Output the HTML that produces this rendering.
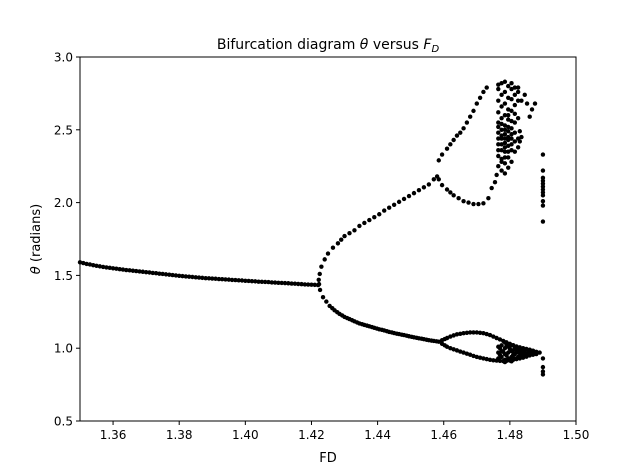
<!DOCTYPE html>
<html><head><meta charset="utf-8"><style>
html,body{margin:0;padding:0;background:#fff;}
svg{display:block;font-family:"DejaVu Sans","Liberation Sans",sans-serif;}
</style></head><body>
<svg id="chart" width="640" height="473" viewBox="0 0 640 473">
<rect x="0" y="0" width="640" height="473" fill="#fff"/>
<g id="ticks"></g>
<g id="marks"></g>
<rect x="80" y="57" width="496" height="364" fill="none" stroke="#000" stroke-width="1"/>
<text x="328" y="49" text-anchor="middle" font-size="14">Bifurcation diagram  <tspan font-style="italic">θ</tspan> versus <tspan font-style="italic">F</tspan><tspan font-style="italic" font-size="10" dy="3">D</tspan></text>
<text x="328" y="462" text-anchor="middle" font-size="13">FD</text>
<text transform="translate(40,239) rotate(-90)" text-anchor="middle" font-size="13"><tspan font-style="italic">θ</tspan> (radians)</text>
</svg>
<script>
const xTicks=[1.36,1.38,1.40,1.42,1.44,1.46,1.48,1.50];
const xTickLabels=["1.36","1.38","1.40","1.42","1.44","1.46","1.48","1.50"];
const yTicks=[0.5,1.0,1.5,2.0,2.5,3.0];
const yTickLabels=["0.5","1.0","1.5","2.0","2.5","3.0"];
const branchLeftX=[1.350,1.351,1.352,1.353,1.354,1.355,1.356,1.357,1.358,1.359,1.360,1.361,1.362,1.363,1.364,1.365,1.366,1.367,1.368,1.369,1.370,1.371,1.372,1.373,1.374,1.375,1.376,1.377,1.378,1.379,1.380,1.381,1.382,1.383,1.384,1.385,1.386,1.387,1.388,1.389,1.390,1.391,1.392,1.393,1.394,1.395,1.396,1.397,1.398,1.399,1.400,1.401,1.402,1.403,1.404,1.405,1.406,1.407,1.408,1.409,1.410,1.411,1.412,1.413,1.414,1.415,1.416,1.417,1.418,1.419,1.420,1.421,1.422];
const branchLeftY=[1.590,1.585,1.579,1.575,1.570,1.566,1.562,1.558,1.555,1.552,1.549,1.546,1.543,1.540,1.537,1.535,1.532,1.530,1.527,1.525,1.522,1.520,1.517,1.515,1.512,1.510,1.507,1.505,1.502,1.500,1.497,1.495,1.493,1.491,1.489,1.487,1.485,1.483,1.481,1.480,1.478,1.477,1.475,1.474,1.472,1.471,1.469,1.468,1.466,1.465,1.463,1.462,1.460,1.459,1.457,1.456,1.455,1.454,1.452,1.451,1.449,1.448,1.447,1.446,1.444,1.443,1.441,1.440,1.438,1.437,1.436,1.435,1.434];
const upperBranch=[[1.4222,1.47],[1.4225,1.51],[1.423,1.56],[1.424,1.61],[1.425,1.65],[1.4265,1.69],[1.428,1.72],[1.429,1.745],[1.430,1.77],[1.4315,1.79],[1.433,1.81],[1.4345,1.84],[1.436,1.86],[1.4375,1.88],[1.439,1.90],[1.4405,1.92],[1.442,1.945],[1.4435,1.965],[1.445,1.985],[1.4465,2.005],[1.448,2.025],[1.4495,2.045],[1.451,2.065],[1.4525,2.085],[1.454,2.105],[1.4555,2.125],[1.457,2.16],[1.458,2.18]];
const lowerBranch=[[1.4223,1.44],[1.4226,1.40],[1.4235,1.35],[1.4245,1.32],[1.4255,1.29],[1.4263,1.275],[1.427,1.26],[1.4278,1.247],[1.4285,1.235],[1.4293,1.225],[1.430,1.215],[1.4308,1.207],[1.4315,1.20],[1.4323,1.192],[1.433,1.185],[1.4338,1.177],[1.4345,1.17],[1.4353,1.165],[1.436,1.16],[1.4368,1.155],[1.4375,1.15],[1.4383,1.145],[1.439,1.14],[1.4398,1.135],[1.4405,1.13],[1.4413,1.126],[1.442,1.122],[1.4428,1.117],[1.4435,1.112],[1.4443,1.108],[1.445,1.104],[1.4458,1.10],[1.4465,1.097],[1.4473,1.093],[1.448,1.09],[1.4488,1.086],[1.4495,1.082],[1.4503,1.078],[1.451,1.075],[1.4518,1.071],[1.4525,1.068],[1.4533,1.065],[1.454,1.062],[1.4548,1.058],[1.4555,1.055],[1.4563,1.052],[1.457,1.05],[1.4578,1.047],[1.4585,1.045]];
const upperRise=[[1.4585,2.29],[1.4595,2.33],[1.461,2.37],[1.462,2.40],[1.463,2.43],[1.464,2.46],[1.465,2.48],[1.466,2.51],[1.467,2.55],[1.468,2.59],[1.469,2.63],[1.470,2.68],[1.471,2.72],[1.472,2.76],[1.473,2.79]];
const upperDip=[[1.4585,2.16],[1.4595,2.12],[1.461,2.09],[1.462,2.07],[1.463,2.05],[1.4645,2.03],[1.466,2.01],[1.4675,2.00],[1.469,1.99],[1.4705,1.99],[1.472,1.995],[1.4735,2.03],[1.4745,2.10],[1.4755,2.14],[1.476,2.19]];
const chaosUpper=[[1.4765,2.25],[1.4765,2.32],[1.4765,2.40],[1.4765,2.48],[1.4765,2.55],[1.4765,2.62],[1.4765,2.70],[1.4765,2.78],[1.4765,2.81],[1.4765,2.36],[1.4765,2.44],[1.4765,2.52],
[1.4775,2.22],[1.4775,2.28],[1.4775,2.36],[1.4775,2.44],[1.4775,2.50],[1.4775,2.58],[1.4775,2.66],[1.4775,2.74],[1.4775,2.82],[1.4775,2.30],[1.4775,2.46],[1.4775,2.40],[1.4775,2.54],
[1.4785,2.20],[1.4785,2.27],[1.4785,2.35],[1.4785,2.41],[1.4785,2.47],[1.4785,2.53],[1.4785,2.60],[1.4785,2.68],[1.4785,2.76],[1.4785,2.83],[1.4785,2.38],[1.4785,2.50],[1.4785,2.44],[1.4785,2.31],
[1.4795,2.24],[1.4795,2.31],[1.4795,2.39],[1.4795,2.45],[1.4795,2.52],[1.4795,2.57],[1.4795,2.64],[1.4795,2.72],[1.4795,2.80],[1.4795,2.43],[1.4795,2.49],[1.4795,2.35],[1.4795,2.60],
[1.4805,2.28],[1.4805,2.36],[1.4805,2.44],[1.4805,2.51],[1.4805,2.56],[1.4805,2.63],[1.4805,2.71],[1.4805,2.78],[1.4805,2.82],[1.4805,2.47],[1.4805,2.40],
[1.4815,2.35],[1.4815,2.42],[1.4815,2.55],[1.4815,2.61],[1.4815,2.67],[1.4815,2.74],[1.4815,2.79],[1.4815,2.48],
[1.4825,2.44],[1.4825,2.58],[1.4825,2.70],[1.4825,2.76],[1.4825,2.79],
[1.483,2.49],[1.4835,2.45],[1.483,2.42],[1.4825,2.38],[1.4835,2.70],[1.4852,2.68],[1.4867,2.64],[1.486,2.59],[1.4876,2.68],[1.4845,2.74]];
const loopTop=[[1.4595,1.055],[1.4603,1.063],[1.461,1.07],[1.462,1.08],[1.463,1.088],[1.464,1.095],[1.465,1.099],[1.466,1.103],[1.467,1.106],[1.468,1.108],[1.469,1.108],[1.470,1.108],[1.471,1.106],[1.472,1.103],[1.473,1.097],[1.474,1.09],[1.475,1.08],[1.476,1.07],[1.477,1.06],[1.478,1.05],[1.479,1.04],[1.480,1.03],[1.481,1.021],[1.482,1.012],[1.483,1.006],[1.484,1.0],[1.485,0.995],[1.486,0.99],[1.487,0.983],[1.488,0.975],[1.489,0.97]];
const loopBottom=[[1.4595,1.03],[1.4603,1.02],[1.461,1.01],[1.462,1.0],[1.463,0.992],[1.464,0.985],[1.465,0.977],[1.466,0.97],[1.467,0.962],[1.468,0.955],[1.469,0.947],[1.470,0.94],[1.471,0.935],[1.472,0.93],[1.473,0.925],[1.474,0.92],[1.475,0.917],[1.476,0.915],[1.477,0.913],[1.478,0.912],[1.479,0.913],[1.480,0.915],[1.481,0.92],[1.482,0.925],[1.483,0.93],[1.484,0.935],[1.485,0.942],[1.486,0.95],[1.487,0.955],[1.488,0.96]];
const chaosLower=[[1.4765,0.93],[1.4765,0.97],[1.4765,1.01],[1.4775,0.94],[1.4775,0.98],[1.4775,1.02],[1.4785,0.92],[1.4785,0.96],[1.4785,1.0],[1.4785,1.04],[1.4795,0.93],[1.4795,0.97],[1.4795,1.01],[1.4805,0.94],[1.4805,0.98],[1.4805,1.02],[1.4815,0.93],[1.4815,0.96],[1.4815,1.0],[1.4825,0.94],[1.4825,0.97],[1.4825,1.0],[1.4835,0.95],[1.4835,0.98],[1.4845,0.96],[1.4845,0.99],[1.4855,0.97],[1.4865,0.975],[1.4805,0.91],[1.4785,0.905],
[1.477,0.955],[1.478,0.975],[1.479,0.95],[1.480,0.995],[1.481,0.955],[1.482,0.985],[1.483,0.965],[1.484,0.975],[1.485,0.965],[1.486,0.965],[1.487,0.97],[1.479,1.02],[1.477,1.0],[1.481,0.985],[1.483,0.995]];
const column149=[[1.49,2.33],[1.49,2.22],[1.49,2.17],[1.49,2.15],[1.49,2.13],[1.49,2.11],[1.49,2.09],[1.49,2.07],[1.49,2.05],[1.49,2.01],[1.49,1.98],[1.49,1.87],[1.49,0.93],[1.49,0.87],[1.49,0.84],[1.49,0.82]];

const X0=80,X1=576,Y0=421,Y1=57;
const xMin=1.35,xMax=1.50,yMin=0.5,yMax=3.0;
function sx(v){return X0+(v-xMin)/(xMax-xMin)*(X1-X0);}
function sy(v){return Y0-(v-yMin)/(yMax-yMin)*(Y0-Y1);}
const NS="http://www.w3.org/2000/svg";
const tg=document.getElementById('ticks');
xTicks.forEach((t,i)=>{
  const l=document.createElementNS(NS,'line');
  l.setAttribute('x1',sx(t));l.setAttribute('x2',sx(t));l.setAttribute('y1',Y0);l.setAttribute('y2',Y0+4);
  l.setAttribute('stroke','#000');
  
  
  tg.appendChild(l);
  const tx=document.createElementNS(NS,'text');
  tx.setAttribute('x',sx(t));tx.setAttribute('y',Y0+18);tx.setAttribute('text-anchor','middle');tx.setAttribute('font-size','12');
  tx.textContent=xTickLabels[i];
  
  
  tg.appendChild(tx);
});
yTicks.forEach((t,i)=>{
  const l=document.createElementNS(NS,'line');
  l.setAttribute('x1',X0-4);l.setAttribute('x2',X0);l.setAttribute('y1',sy(t));l.setAttribute('y2',sy(t));
  l.setAttribute('stroke','#000');
  
  
  tg.appendChild(l);
  const tx=document.createElementNS(NS,'text');
  tx.setAttribute('x',X0-7);tx.setAttribute('y',sy(t)+4.5);tx.setAttribute('text-anchor','end');tx.setAttribute('font-size','12');
  tx.textContent=yTickLabels[i];
  
  
  tg.appendChild(tx);
});
const mg=document.getElementById('marks');
function dot(x,y){
  const c=document.createElementNS(NS,'circle');
  c.setAttribute('cx',sx(x));c.setAttribute('cy',sy(y));c.setAttribute('r','2.2');c.setAttribute('fill','#000');
  
  
  mg.appendChild(c);
}
branchLeftX.forEach((x,i)=>dot(x,branchLeftY[i]));
[upperBranch,lowerBranch,upperRise,upperDip,chaosUpper,loopTop,loopBottom,chaosLower,column149].forEach(arr=>arr.forEach(p=>dot(p[0],p[1])));
</script>
</body></html>
